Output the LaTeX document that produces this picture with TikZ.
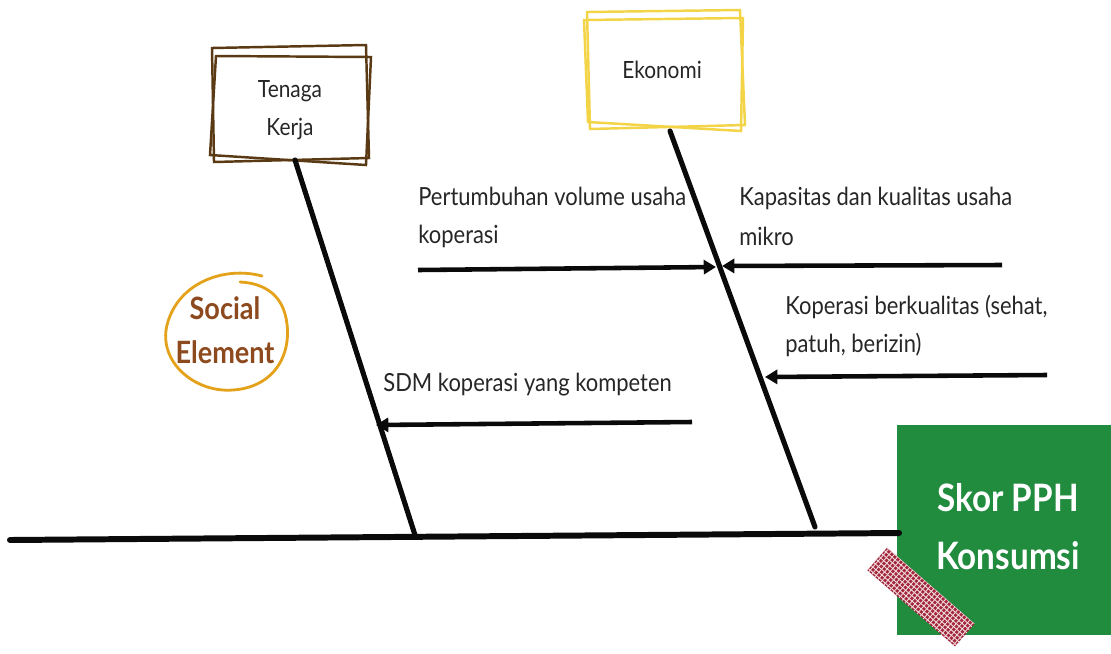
\documentclass[tikz,border=0pt]{standalone}
\usepackage{fontspec}
\setmainfont{Lato}[FakeStretch=0.88]
\usetikzlibrary{arrows.meta}
\definecolor{boneblack}{HTML}{0A0A0A}
\definecolor{boxbrown}{HTML}{5A3A14}
\definecolor{boxyellow}{HTML}{F3D447}
\definecolor{effectgreen}{HTML}{218B3E}
\definecolor{socialbrown}{HTML}{8E4A1F}
\definecolor{ringorange}{HTML}{E3A21A}
\definecolor{tapered}{HTML}{A3263A}
\tikzset{
  bone/.style={draw=boneblack, line width=2.9pt, line cap=round},
  spine/.style={draw=boneblack, line width=3.4pt, line cap=round},
  cause/.style={draw=boneblack, line width=2.6pt,
    -{Triangle[length=7pt,width=8pt]}},
  label/.style={anchor=base west, inner sep=0pt, font=\fontsize{14.2}{15}\selectfont, text=black!85},
  cat/.style={align=center, inner sep=0pt, font=\fontsize{13.5}{22}\selectfont, text=black!85},
  sketch/.style={line width=1.4pt},
}
\begin{document}
\begin{tikzpicture}[x=0.02cm,y=-0.02cm]
\useasboundingbox (0,0) rectangle (1111,653);

% effect box
\node[fill=effectgreen, minimum width=214*0.02cm, minimum height=210*0.02cm,
  inner sep=0pt, anchor=north west] (effect) at (897,425) {};
\node[text=white, align=center, font=\bfseries\fontsize{21.5}{33}\selectfont]
  (effectlabel) at (1008,527) {Skor PPH\\Konsumsi};

% category boxes (double sketch frames)
\draw[boxbrown, sketch] (212,48) -- (366,45) -- (369,158) -- (214,162) -- cycle;
\draw[boxbrown, sketch] (216,56) -- (371,57) -- (366,165) -- (210,155) -- cycle;
\node[cat] (tk) at (290,110) {Tenaga\\Kerja};

\draw[boxyellow, sketch] (587,12) -- (740,10) -- (745,125) -- (590,129) -- cycle;
\draw[boxyellow, sketch] (584,20) -- (743,18) -- (741,131) -- (588,122) -- cycle;
\node[cat] (eko) at (662,70) {Ekonomi};

% bones
\coordinate (tail) at (10,540);
\coordinate (head) at (899,533);
\coordinate (b1top) at (295,160);
\coordinate (b1foot) at (415,535);
\coordinate (b2top) at (670,131);
\coordinate (b2foot) at (815,527);
\draw[spine] (tail) -- (head);
\draw[bone] (b1top) -- (b1foot);
\draw[bone] (b2top) -- (b2foot);

% causes
\coordinate (c1s) at (418,270);
\coordinate (c1e) at (716,267);
\coordinate (c2s) at (1002,265);
\coordinate (c2e) at (722,266);
\coordinate (c3s) at (1047,375);
\coordinate (c3e) at (765,377);
\coordinate (c4s) at (692,422);
\coordinate (c4e) at (376,425);
\draw[cause] (c1s) -- (c1e);
\draw[cause] (c2s) -- (c2e);
\draw[cause] (c3s) -- (c3e);
\draw[cause] (c4s) -- (c4e);

\node[label] (t1a) at (418,205) {Pertumbuhan volume usaha};
\node[label] (t1b) at (418,243) {koperasi};
\node[label] (t2a) at (739,205) {Kapasitas dan kualitas usaha};
\node[label] (t2b) at (739,245) {mikro};
\node[label] (t3a) at (785,314) {Koperasi berkualitas (sehat,};
\node[label] (t3b) at (785,352) {patuh, berizin)};
\node[label] (t4) at (383,391) {SDM koperasi yang kompeten};

% social element ring, one hand-drawn stroke with a small overlap on top
\draw[ringorange, line width=1.6pt, line cap=round]
  (262,276) .. controls (225,266) and (178,282) .. (167,325)
  .. controls (158,362) and (195,393) .. (233,390)
  .. controls (276,387) and (293,352) .. (286,318)
  .. controls (281,293) and (262,283) .. (240,282);
\node[text=socialbrown, align=center, font=\bfseries\fontsize{17.5}{25}\selectfont]
  (social) at (225,330) {Social\\Element};

% checkered tape
\begin{scope}[shift={(921,597)}, rotate=-41]
  \fill[tapered] (-58,-15) rectangle (58,15);
  \clip (-58,-15) rectangle (58,15);
  \foreach \k in {-60,-56,...,60} {
    \draw[white!85!tapered, line width=0.5pt] (\k,-16) -- (\k,16);
  }
  \foreach \k in {-15,-11,...,15} {
    \draw[white!85!tapered, line width=0.5pt] (-59,\k) -- (59,\k);
  }
\end{scope}
\end{tikzpicture}
\end{document}
